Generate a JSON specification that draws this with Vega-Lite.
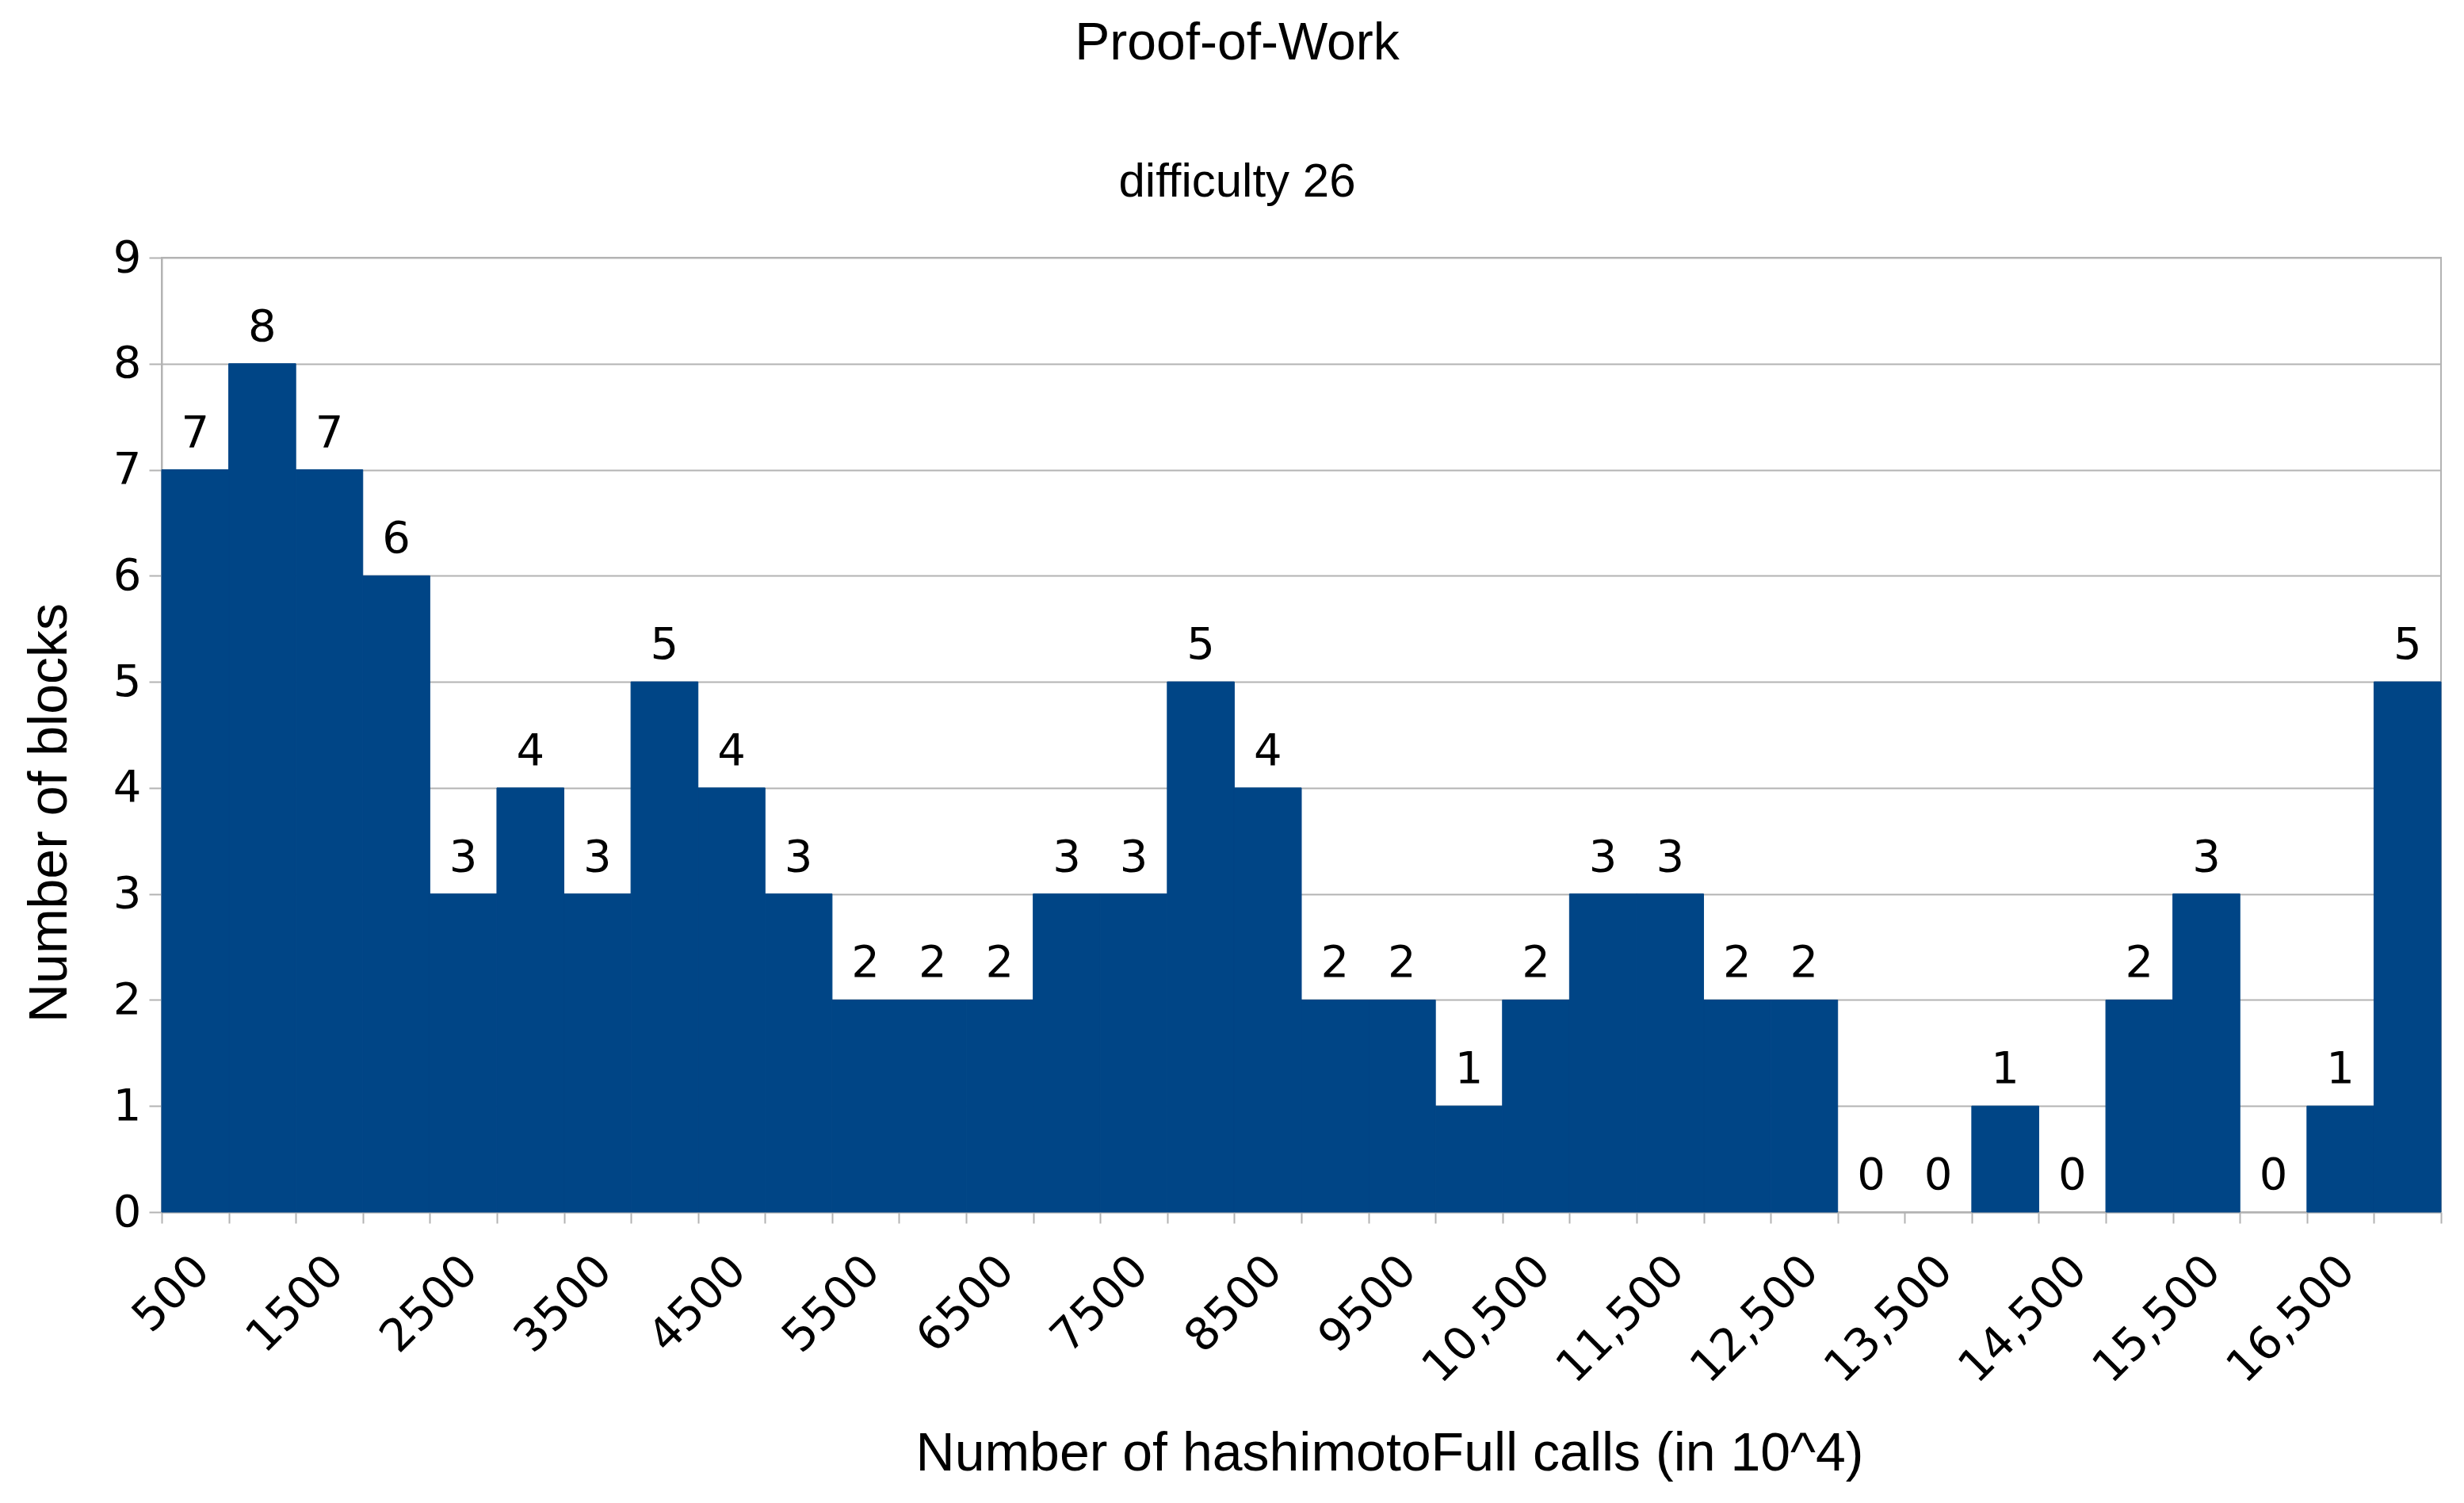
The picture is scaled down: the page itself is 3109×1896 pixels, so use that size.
{
  "$schema": "https://vega.github.io/schema/vega-lite/v6.json",
  "autosize": {"type": "none"},
  "width": 2876,
  "height": 1204,
  "padding": {"left": 204, "top": 325, "right": 29, "bottom": 367},
  "background": "white",
  "config": {
    "view": {"stroke": "#b3b3b3", "strokeWidth": 2},
    "font": "Liberation Sans"
  },
  "title": {
    "text": "Proof-of-Work",
    "subtitle": "difficulty 26",
    "anchor": "middle",
    "frame": "group",
    "dx": -81,
    "font": "Liberation Sans",
    "fontSize": 66,
    "fontWeight": "normal",
    "color": "black",
    "subtitleFont": "Liberation Sans",
    "subtitleFontSize": 60,
    "subtitleColor": "black",
    "subtitlePadding": 112,
    "offset": 36
  },
  "data": {
    "values": [
      {"start": 500, "end": 1000, "count": 7},
      {"start": 1000, "end": 1500, "count": 8},
      {"start": 1500, "end": 2000, "count": 7},
      {"start": 2000, "end": 2500, "count": 6},
      {"start": 2500, "end": 3000, "count": 3},
      {"start": 3000, "end": 3500, "count": 4},
      {"start": 3500, "end": 4000, "count": 3},
      {"start": 4000, "end": 4500, "count": 5},
      {"start": 4500, "end": 5000, "count": 4},
      {"start": 5000, "end": 5500, "count": 3},
      {"start": 5500, "end": 6000, "count": 2},
      {"start": 6000, "end": 6500, "count": 2},
      {"start": 6500, "end": 7000, "count": 2},
      {"start": 7000, "end": 7500, "count": 3},
      {"start": 7500, "end": 8000, "count": 3},
      {"start": 8000, "end": 8500, "count": 5},
      {"start": 8500, "end": 9000, "count": 4},
      {"start": 9000, "end": 9500, "count": 2},
      {"start": 9500, "end": 10000, "count": 2},
      {"start": 10000, "end": 10500, "count": 1},
      {"start": 10500, "end": 11000, "count": 2},
      {"start": 11000, "end": 11500, "count": 3},
      {"start": 11500, "end": 12000, "count": 3},
      {"start": 12000, "end": 12500, "count": 2},
      {"start": 12500, "end": 13000, "count": 2},
      {"start": 13000, "end": 13500, "count": 0},
      {"start": 13500, "end": 14000, "count": 0},
      {"start": 14000, "end": 14500, "count": 1},
      {"start": 14500, "end": 15000, "count": 0},
      {"start": 15000, "end": 15500, "count": 2},
      {"start": 15500, "end": 16000, "count": 3},
      {"start": 16000, "end": 16500, "count": 0},
      {"start": 16500, "end": 17000, "count": 1},
      {"start": 17000, "end": 17500, "count": 5}
    ]
  },
  "encoding": {
    "x": {
      "field": "start",
      "type": "quantitative",
      "scale": {"domain": [500, 17500], "nice": false, "zero": false},
      "axis": {
        "title": "Number of hashimotoFull calls (in 10^4)",
        "titleFont": "Liberation Sans",
        "titleFontSize": 68,
        "titleFontWeight": "normal",
        "titleColor": "black",
        "titleX": 1549,
        "titleY": 325,
        "titleBaseline": "alphabetic",
        "titleAlign": "center",
        "values": [500, 1000, 1500, 2000, 2500, 3000, 3500, 4000, 4500, 5000, 5500, 6000, 6500, 7000, 7500, 8000, 8500, 9000, 9500, 10000, 10500, 11000, 11500, 12000, 12500, 13000, 13500, 14000, 14500, 15000, 15500, 16000, 16500, 17000, 17500],
        "labelExpr": "(datum.value / 500) % 2 == 1 && datum.value < 17000 ? (datum.value >= 10000 ? format(datum.value, ',') : format(datum.value, 'd')) : ''",
        "labelAngle": -45,
        "labelAlign": "right",
        "labelBaseline": "top",
        "labelOffset": 31,
        "labelPadding": 31,
        "labelLimit": 0,
        "labelFont": "DejaVu Sans",
        "labelFontSize": 57,
        "labelColor": "black",
        "labelOverlap": false,
        "labelFlush": false,
        "labelBound": false,
        "tickSize": 14,
        "tickWidth": 2,
        "tickColor": "#b3b3b3",
        "domainColor": "#b3b3b3",
        "domainWidth": 2,
        "grid": false
      }
    },
    "y": {
      "field": "count",
      "type": "quantitative",
      "scale": {"domain": [0, 9], "nice": false},
      "axis": {
        "title": "Number of blocks",
        "titleFont": "Liberation Sans",
        "titleFontSize": 68,
        "titleFontWeight": "normal",
        "titleColor": "black",
        "titlePadding": 45,
        "titleY": 700,
        "titleAlign": "center",
        "values": [0, 1, 2, 3, 4, 5, 6, 7, 8, 9],
        "labelFont": "DejaVu Sans",
        "labelFontSize": 56,
        "labelColor": "black",
        "labelPadding": 10,
        "tickSize": 16,
        "tickWidth": 2,
        "tickColor": "#b3b3b3",
        "domainColor": "#b3b3b3",
        "domainWidth": 2,
        "grid": true,
        "gridColor": "#b3b3b3",
        "gridWidth": 2
      }
    }
  },
  "layer": [
    {
      "mark": {"type": "bar", "color": "#004586"},
      "encoding": {
        "x2": {"field": "end"},
        "y2": {"datum": 0},
        "stroke": {"condition": {"test": "datum.count == 0", "value": null}, "value": "#004586"},
        "strokeWidth": {"value": 1}
      }
    },
    {
      "mark": {
        "type": "text",
        "font": "DejaVu Sans",
        "fontSize": 56,
        "color": "black",
        "align": "center",
        "baseline": "alphabetic",
        "dx": 42.3,
        "dy": -29
      },
      "encoding": {
        "text": {"field": "count", "type": "quantitative"}
      }
    }
  ]
}
